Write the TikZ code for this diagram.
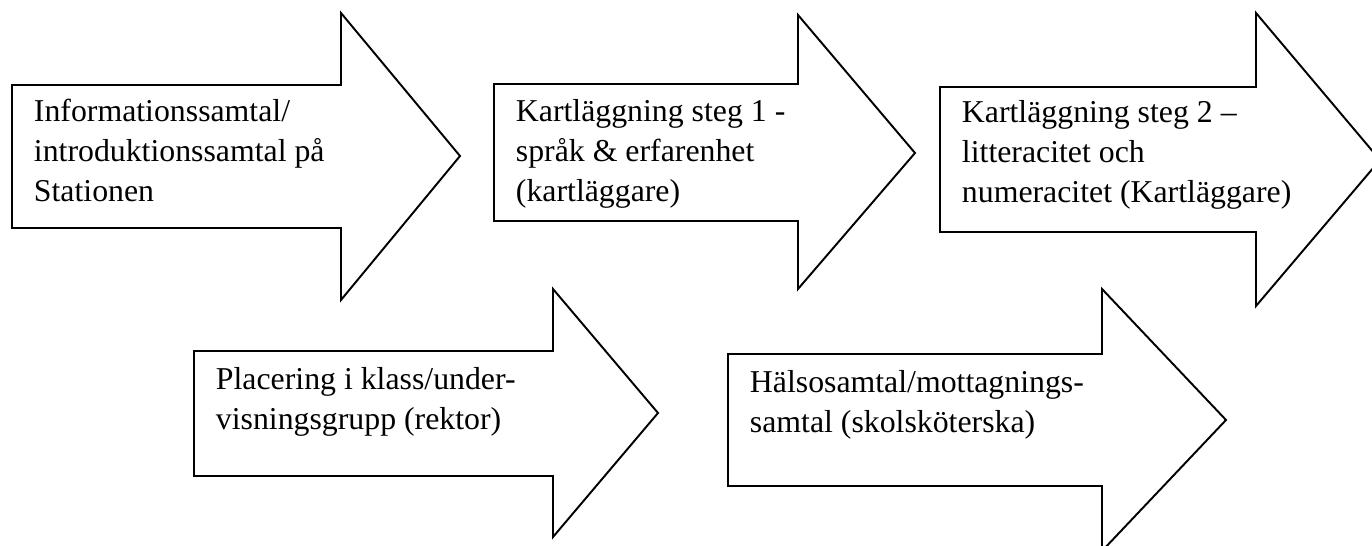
\documentclass[tikz,border=0pt]{standalone}
\usepackage{fontspec}
\setmainfont{Liberation Serif}
\begin{document}
\begin{tikzpicture}[x=0.02cm,y=-0.02cm,line width=1.1pt,line join=miter,
  steptext/.style={anchor=base west,align=left,inner sep=0pt,
    font=\fontsize{18.1}{22.8}\selectfont}]
\useasboundingbox (0,0) rectangle (1372,546);
\clip (0,0) rectangle (1372,546);
% top row
\draw
  (12,85)--(341,85)--(341,13)--(460,156)--(341,300)--(341,228)--(12,228)--cycle
  (494,84)--(798,84)--(798,15)--(915,153)--(798,289)--(798,221)--(494,221)--cycle
  (940,87)--(1256,87)--(1256,13)--(1380,160)--(1256,306)--(1256,232)--(940,232)--cycle;
% bottom row
\draw
  (194,351)--(553,351)--(553,289)--(658,413)--(553,537)--(553,476)--(194,476)--cycle
  (728,354)--(1102,354)--(1102,289)--(1226,420)--(1102,551)--(1102,486)--(728,486)--cycle;
% text sits on the baseline of its last line
\node[steptext] (info) at (33,202)
  {Informationssamtal/\\introduktionssamtal på\\Stationen};
\node[steptext] (steg1) at (515,202)
  {Kartläggning steg 1 -\\språk \& erfarenhet\\(kartläggare)};
\node[steptext] (steg2) at (961,203)
  {Kartläggning steg 2 –\\litteracitet och\\numeracitet (Kartläggare)};
\node[steptext] (placering) at (215,430)
  {Placering i klass/under-\\visningsgrupp (rektor)};
\node[steptext] (halsa) at (749,433)
  {Hälsosamtal/mottagnings-\\samtal (skolsköterska)};
\end{tikzpicture}
\end{document}
